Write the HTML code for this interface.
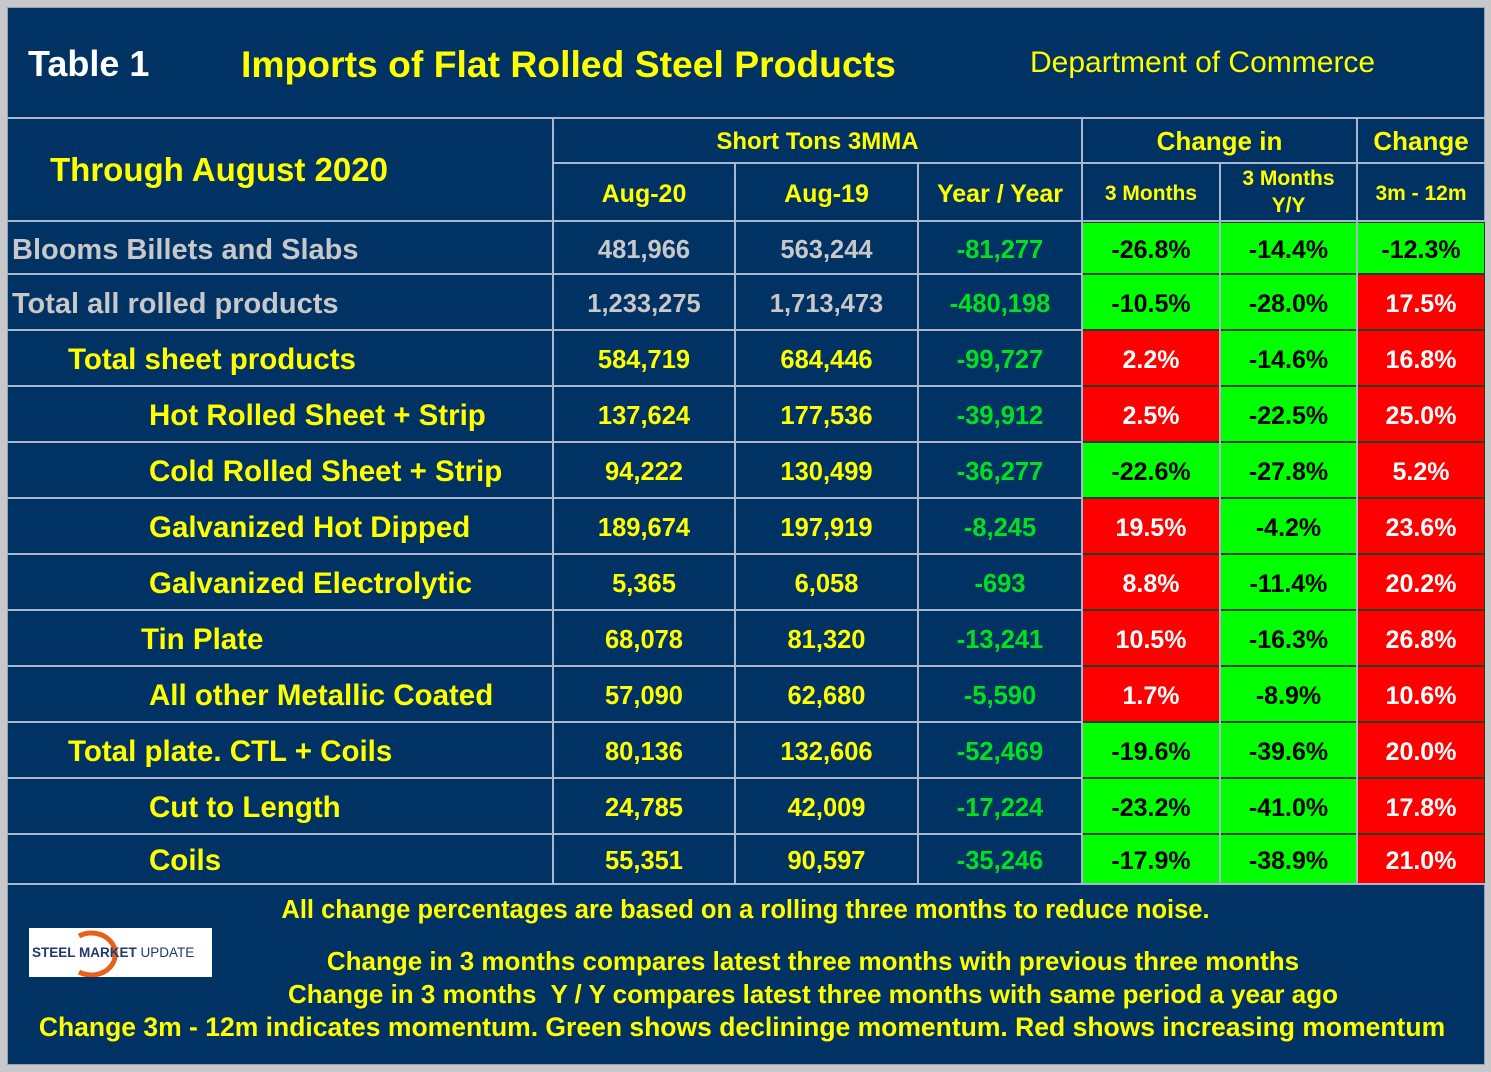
<!DOCTYPE html>
<html><head><meta charset="utf-8"><style>
body{margin:0;width:1491px;height:1072px;background:#c8c8c8;overflow:hidden;font-family:"Liberation Sans",Arial,sans-serif;font-weight:bold}
#panel{position:absolute;left:7px;top:7px;width:1478px;height:1058px;background:#003264;border:1px solid #8fa3c0;box-sizing:border-box}
.t{position:absolute;white-space:nowrap}
.c{position:absolute;box-sizing:border-box;display:flex;align-items:center;justify-content:center;white-space:nowrap}
.hl{position:absolute;background:#a9b6cc;height:2px}
.vl{position:absolute;background:#a9b6cc;width:2px}
</style></head><body>
<div id="panel"></div>
<div class="t" style="left:28px;top:43px;font-size:36px;color:#fff">Table 1</div>
<div class="t" style="left:241px;top:43px;font-size:37.3px;color:#ffff00">Imports of Flat Rolled Steel Products</div>
<div class="t" style="left:1030px;top:46px;font-size:30px;font-weight:normal;color:#ffff00">Department of Commerce</div>
<div class="hl" style="left:7px;top:117px;width:1478px"></div>
<div class="t" style="left:50px;top:151px;font-size:33px;color:#ffff00">Through August 2020</div>
<div class="c" style="left:553px;top:120px;width:529px;height:43px;font-size:24px;color:#ffff00">Short Tons 3MMA</div>
<div class="c" style="left:1082px;top:120px;width:275px;height:43px;font-size:26px;color:#ffff00">Change in</div>
<div class="c" style="left:1357px;top:120px;width:128px;height:43px;font-size:26px;color:#ffff00">Change</div>
<div class="hl" style="left:553px;top:162px;width:932px"></div>
<div class="c" style="left:553px;top:166px;width:182px;height:56px;font-size:25px;color:#ffff00">Aug-20</div>
<div class="c" style="left:735px;top:166px;width:183px;height:56px;font-size:25px;color:#ffff00">Aug-19</div>
<div class="c" style="left:918px;top:166px;width:164px;height:56px;font-size:25px;color:#ffff00">Year / Year</div>
<div class="c" style="left:1082px;top:166px;width:138px;height:56px;font-size:21px;color:#ffff00">3 Months</div>
<div class="c" style="left:1220px;top:164px;width:137px;height:56px;font-size:21px;color:#ffff00;line-height:27px;text-align:center">3 Months<br>Y/Y</div>
<div class="c" style="left:1357px;top:166px;width:128px;height:56px;font-size:21px;color:#ffff00">3m - 12m</div>
<div id="rows"></div>
<div class="vl" style="left:552px;top:118px;height:766px"></div>
<div class="vl" style="left:734px;top:163px;height:721px"></div>
<div class="vl" style="left:917px;top:163px;height:721px"></div>
<div class="vl" style="left:1081px;top:118px;height:766px"></div>
<div class="vl" style="left:1219px;top:163px;height:721px"></div>
<div class="vl" style="left:1356px;top:118px;height:766px"></div>
<div class="hl" style="left:7px;top:220px;width:1478px"></div>
<div class="hl" style="left:7px;top:883px;width:1478px"></div>
<div class="t" style="left:0;width:1491px;text-align:center;top:896px;font-size:25.5px;color:#ffff00">All change percentages are based on a rolling three months to reduce noise.</div>
<div class="t" style="left:0;width:1626px;text-align:center;top:946px;font-size:26px;color:#ffff00">Change in 3 months compares latest three months with previous three months</div>
<div class="t" style="left:0;width:1626px;text-align:center;top:979px;font-size:26px;color:#ffff00">Change in 3 months&nbsp; Y / Y compares latest three months with same period a year ago</div>
<div class="t" style="left:0;width:1484px;text-align:center;top:1012px;font-size:26.5px;color:#ffff00">Change 3m - 12m indicates momentum. Green shows declininge momentum. Red shows increasing momentum</div>
<div style="position:absolute;left:29px;top:928px;width:183px;height:49px;background:#fff">
<svg width="183" height="49" style="position:absolute;left:0;top:0"><path d="M50 8 A24 21 0 1 1 50 44" fill="none" stroke="#e8601c" stroke-width="5"/></svg>
<span style="position:absolute;left:3px;top:17px;font-size:13.5px;color:#1d3a6e">STEEL <span>MARKET</span> <span style="font-weight:normal">UPDATE</span></span>
</div>
<script>
const labels=["Blooms Billets and Slabs","Total all rolled products","Total sheet products","Hot Rolled Sheet + Strip","Cold Rolled Sheet + Strip","Galvanized Hot Dipped","Galvanized Electrolytic","Tin Plate","All other Metallic Coated","Total plate. CTL + Coils","Cut to Length","Coils"];
const indent=[12,12,68,149,149,149,149,141,149,68,149,149];
const aug20=["481,966","1,233,275","584,719","137,624","94,222","189,674","5,365","68,078","57,090","80,136","24,785","55,351"];
const aug19=["563,244","1,713,473","684,446","177,536","130,499","197,919","6,058","81,320","62,680","132,606","42,009","90,597"];
const yoy=["-81,277","-480,198","-99,727","-39,912","-36,277","-8,245","-693","-13,241","-5,590","-52,469","-17,224","-35,246"];
const ch3m=[-26.8,-10.5,2.2,2.5,-22.6,19.5,8.8,10.5,1.7,-19.6,-23.2,-17.9];
const ch3my=[-14.4,-28.0,-14.6,-22.5,-27.8,-4.2,-11.4,-16.3,-8.9,-39.6,-41.0,-38.9];
const mom=[-12.3,17.5,16.8,25.0,5.2,23.6,20.2,26.8,10.6,20.0,17.8,21.0];
const rowTop=[222,274,330,386,442,498,554,610,666,722,778,834];
const rowBot=[274,330,386,442,498,554,610,666,722,778,834,884];
const R=document.getElementById('rows');
function cell(x,w,y,h,txt,name,style){const d=document.createElement('div');d.className='c';


d.style.cssText=`left:${x}px;top:${y}px;width:${w}px;height:${h}px;`+style;d.textContent=txt;R.appendChild(d);return d;}
labels.forEach((l,i)=>{const y=rowTop[i],h=rowBot[i]-rowTop[i];const grey=i<2;
 cell(indent[i],540-indent[i],y+2,h,l,'row-label',`justify-content:flex-start;font-size:${grey?29:29.5}px;color:${grey?'#c8c8c8':'#ffff00'}`);
 const nc=grey?'#c8c8c8':'#ffff00';
 cell(553,182,y+2,h,aug20[i],'aug20-value',`font-size:25.5px;color:${nc}`);
 cell(735,183,y+2,h,aug19[i],'aug19-value',`font-size:25.5px;color:${nc}`);
 cell(918,164,y+2,h,yoy[i],'yoy-value','font-size:25.5px;color:#00e020');
 [[ch3m,1082,138,'change-3m'],[ch3my,1220,137,'change-3m-yy'],[mom,1357,128,'change-3m-12m']].forEach(([arr,x,w,n])=>{
  const v=arr[i];const neg=v<0;
  cell(x,w,y,h,v.toFixed(1)+'%',n,`padding-top:4px;font-size:25px;background:${neg?'#00ff00':'#ff0000'};color:${neg?'#000':'#fff'};border:1px solid #204020`);
 });
 if(i<11){const hl=document.createElement('div');hl.className='hl';hl.style.cssText=`left:7px;top:${rowBot[i]-1}px;width:1075px`;R.appendChild(hl);}
});
</script>
</body></html>
